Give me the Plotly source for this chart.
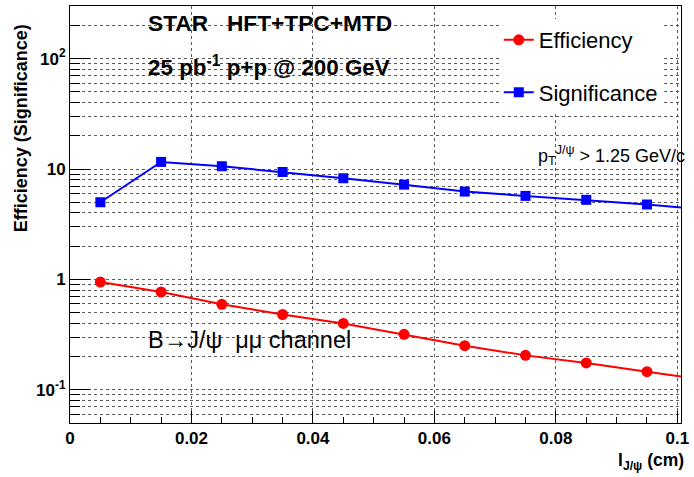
import plotly.graph_objects as go
import math

# Data
decay_length_cm = [0.005, 0.015, 0.025, 0.035, 0.045, 0.055, 0.065, 0.075, 0.085, 0.095, 0.105]
efficiency = [0.946, 0.769, 0.595, 0.481, 0.399, 0.318, 0.251, 0.205, 0.175, 0.146, 0.122]
significance = [5.0, 11.6, 10.6, 9.4, 8.25, 7.22, 6.25, 5.71, 5.26, 4.77, 4.25]

y_tick_vals = [0.1, 1, 10, 100]
y_tick_text = ["10<sup>-1</sup>", "1", "10", "10<sup>2</sup>"]
x_tick_vals = [0, 0.02, 0.04, 0.06, 0.08, 0.1]
x_tick_text = ["0", "0.02", "0.04", "0.06", "0.08", "0.1"]

FONT = "Liberation Sans, Arial, Helvetica, sans-serif"
GRID = "#5a5a5a"
NB = "\u00a0"

fig = go.Figure()
fig.add_trace(go.Scatter(
    x=decay_length_cm, y=efficiency, mode="lines+markers", name="Efficiency",
    line=dict(color="#ff0000", width=2),
    marker=dict(symbol="circle", size=11, color="#ff0000"),
    legendgroup="eff",
))
fig.add_trace(go.Scatter(
    x=decay_length_cm, y=significance, mode="lines+markers", name="Significance",
    line=dict(color="#0000ff", width=2),
    marker=dict(symbol="square", size=10, color="#0000ff"),
    legendgroup="sig",
))

fig.update_xaxes(
    range=[0, 0.1006], showline=True, linecolor="black", linewidth=1, mirror=True,
    tickmode="array", tickvals=x_tick_vals, ticktext=x_tick_text,
    ticks="inside", ticklen=12, tickcolor="black",
    showgrid=True, gridcolor=GRID, griddash="dot", gridwidth=1,
    zeroline=False, ticklabeloverflow="allow",
    tickfont=dict(family=FONT, size=17, color="black", weight="bold"),
    minor=dict(dtick=0.005, tick0=0, ticks="inside", ticklen=6, tickcolor="black", showgrid=False),
)
fig.update_yaxes(
    type="log", range=[math.log10(0.05), math.log10(300)],
    showline=True, linecolor="black", linewidth=1, mirror=True,
    tickmode="array", tickvals=y_tick_vals, ticktext=y_tick_text,
    ticks="inside", ticklen=20, tickcolor="black",
    showgrid=True, gridcolor=GRID, griddash="dot", gridwidth=1,
    zeroline=False,
    tickfont=dict(family=FONT, size=17, color="black", weight="bold"),
    minor=dict(dtick="D1", ticks="inside", ticklen=10, tickcolor="black",
               showgrid=True, gridcolor=GRID, griddash="dot", gridwidth=1),
)

annotations = [
    dict(text="<b>STAR" + NB * 3 + "HFT+TPC+MTD</b>", x=147, y=22, size=22.7),
    dict(text="<b>25 pb<sup>-1</sup> p+p @ 200 GeV</b>", x=147, y=65, size=22.4),
    dict(text="B\u2192J/\u03c8" + NB * 2 + "\u03bc\u03bc channel", x=147, y=340, size=23.5),
]
for a in annotations:
    fig.add_annotation(
        text=a["text"], xref="paper", yref="paper",
        x=(a["x"] - 70) / 617, y=1 - (a["y"] - 5) / 418,
        xanchor="left", yanchor="middle", showarrow=False,
        font=dict(family=FONT, size=a["size"], color="black"),
    )

fig.add_annotation(
    text="p<sub>T</sub><sup>J/\u03c8</sup> > 1.25 GeV/c", xref="paper", yref="paper",
    x=(693 - 70) / 617, y=1 - (155 - 5) / 418, xanchor="right", yanchor="middle",
    showarrow=False, font=dict(family=FONT, size=18, color="black"),
)
fig.add_annotation(
    text="<b>l<sub>J/\u03c8</sub> (cm)</b>", xref="paper", yref="paper",
    x=(692 - 70) / 617, y=1 - (462 - 5) / 418, xanchor="right", yanchor="middle",
    showarrow=False, font=dict(family=FONT, size=17.5, color="black"),
)
fig.add_annotation(
    text="<b>Efficiency (Significance)</b>", xref="paper", yref="paper",
    x=(20 - 70) / 617, y=1 - (127 - 5) / 418, xanchor="center", yanchor="middle",
    textangle=-90, showarrow=False, font=dict(family=FONT, size=18, color="black"),
)

fig.update_layout(
    width=694, height=477,
    margin=dict(l=70, r=7, t=5, b=54),
    paper_bgcolor="white", plot_bgcolor="white",
    showlegend=True,
    legend=dict(
        x=(503 - 70) / 617, y=1 - (18 - 5) / 418, xanchor="left", yanchor="top",
        bgcolor="white", borderwidth=0, traceorder="grouped", tracegroupgap=21,
        font=dict(family=FONT, size=22, color="black"),
    ),
)

fig.write_html("out.html")
